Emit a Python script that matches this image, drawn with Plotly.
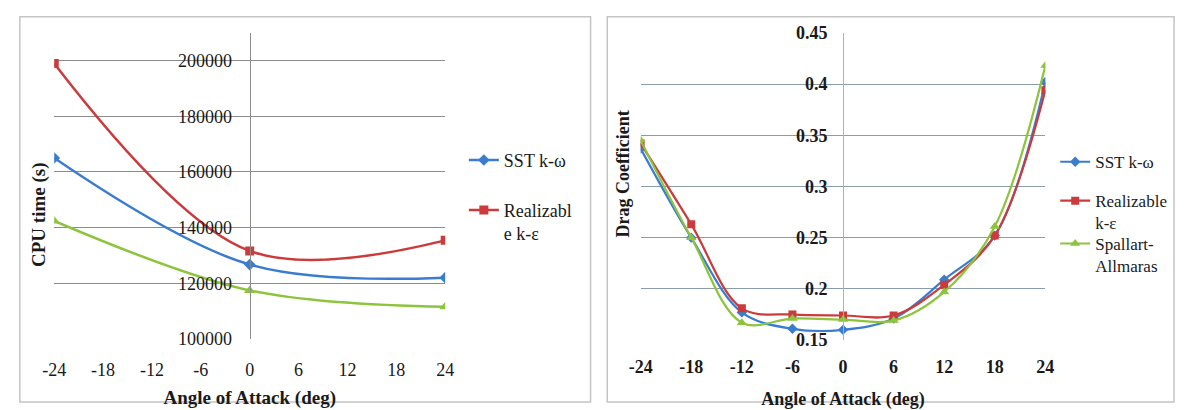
import plotly.graph_objects as go

W, H = 1186, 410

# ---------------- data ----------------
angles_left = [-24, 0, 24]
cpu_sst = [165000, 126700, 122000]
cpu_realizable = [199000, 131600, 135400]
cpu_spallart = [142400, 117400, 111500]

angles_right = [-24, -18, -12, -6, 0, 6, 12, 18, 24]
cd_sst = [0.337, 0.250, 0.177, 0.161, 0.160, 0.171, 0.209, 0.252, 0.402]
cd_realizable = [0.342, 0.263, 0.181, 0.175, 0.174, 0.174, 0.204, 0.252, 0.394]
cd_spallart = [0.345, 0.250, 0.167, 0.171, 0.170, 0.169, 0.197, 0.261, 0.418]

x_ticks = [-24, -18, -12, -6, 0, 6, 12, 18, 24]
x_tick_text = ["-24", "-18", "-12", "-6", "0", "6", "12", "18", "24"]
left_y_ticks = [100000, 120000, 140000, 160000, 180000, 200000]
left_y_text = ["100000", "120000", "140000", "160000", "180000", "200000"]
right_y_ticks = [0.15, 0.2, 0.25, 0.3, 0.35, 0.4, 0.45]
right_y_text = ["0.15", "0.2", "0.25", "0.3", "0.35", "0.4", "0.45"]

BLUE = "#3a7ccf"
RED = "#cc3b3b"
GREEN = "#8cc43c"
SERIF = "Liberation Serif, Times New Roman, serif"


def px(x):
    return x / W


def py(y):
    return 1 - y / H


fig = go.Figure()

# ---------------- left chart ----------------
fig.add_trace(go.Scatter(x=angles_left, y=cpu_sst, name="SST k-ω", mode="lines+markers",
                         line=dict(color=BLUE, width=2.5, shape="spline", smoothing=1),
                         marker=dict(symbol="diamond", size=9, color=BLUE),
                         xaxis="x", yaxis="y", legend="legend"))
fig.add_trace(go.Scatter(x=angles_left, y=cpu_realizable, name="Realizabl<br>e k-ε", mode="lines+markers",
                         line=dict(color=RED, width=2.5, shape="spline", smoothing=1),
                         marker=dict(symbol="square", size=9, color=RED),
                         xaxis="x", yaxis="y", legend="legend2"))
fig.add_trace(go.Scatter(x=angles_left, y=cpu_spallart, name="Spallart-Allmaras", mode="lines+markers",
                         line=dict(color=GREEN, width=2.5, shape="spline", smoothing=1),
                         marker=dict(symbol="triangle-up", size=10, color=GREEN),
                         xaxis="x", yaxis="y", showlegend=False))

# ---------------- right chart ----------------
fig.add_trace(go.Scatter(x=angles_right, y=cd_sst, name="SST k-ω", mode="lines+markers",
                         line=dict(color=BLUE, width=2.2, shape="spline", smoothing=1),
                         marker=dict(symbol="diamond", size=8, color=BLUE),
                         xaxis="x2", yaxis="y2", legend="legend3"))
fig.add_trace(go.Scatter(x=angles_right, y=cd_realizable, name="Realizable<br>k-ε", mode="lines+markers",
                         line=dict(color=RED, width=2.2, shape="spline", smoothing=1),
                         marker=dict(symbol="square", size=8, color=RED),
                         xaxis="x2", yaxis="y2", legend="legend4"))
fig.add_trace(go.Scatter(x=angles_right, y=cd_spallart, name="Spallart-<br>Allmaras", mode="lines+markers",
                         line=dict(color=GREEN, width=2.2, shape="spline", smoothing=1),
                         marker=dict(symbol="triangle-up", size=9, color=GREEN),
                         xaxis="x2", yaxis="y2", legend="legend5"))

tick_font_l = dict(family=SERIF, size=18, color="#1a1a1a")
tick_font_r = dict(family=SERIF, size=18, color="#1a1a1a", weight="bold")
title_font_l = dict(family=SERIF, size=19, color="#1a1a1a", weight="bold")
title_font_r = dict(family=SERIF, size=18, color="#1a1a1a", weight="bold")
leg_font_l = dict(family=SERIF, size=18, color="#1a1a1a")
leg_font_r = dict(family=SERIF, size=17, color="#1a1a1a")

xl_dom = [px(43), px(441)]
xr_dom = [px(640), px(1052)]

fig.update_layout(
    width=W, height=H,
    margin=dict(l=0, r=0, t=0, b=0),
    paper_bgcolor="white", plot_bgcolor="white",
    xaxis=dict(domain=xl_dom, range=[-24, 24], tickvals=x_ticks, ticktext=x_tick_text,
               showgrid=False, zeroline=False,
               showline=False, ticks="outside", ticklen=15, tickcolor="rgba(0,0,0,0)",
               tickfont=tick_font_l, anchor="y",
               title=dict(text="Angle of Attack (deg)", font=title_font_l, standoff=11)),
    yaxis=dict(domain=[py(345.7), py(24)], range=[100000, 210000], tickvals=left_y_ticks,
               ticktext=left_y_text,
               showgrid=True, gridcolor="#8c8c8c", gridwidth=1, zeroline=False,
               showline=True, linecolor="#8c8c8c", linewidth=1,
               anchor="free", position=(xl_dom[0] + xl_dom[1]) / 2,
               ticks="outside", ticklen=14, tickcolor="rgba(0,0,0,0)", tickfont=tick_font_l),
    xaxis2=dict(domain=xr_dom, range=[-24, 24], tickvals=x_ticks, ticktext=x_tick_text,
                showgrid=False, zeroline=False,
                showline=False, ticks="outside", ticklen=10, tickcolor="rgba(0,0,0,0)",
                tickfont=tick_font_r, anchor="y2",
                title=dict(text="Angle of Attack (deg)", font=title_font_r, standoff=16)),
    yaxis2=dict(domain=[py(347), py(24)], range=[0.15, 0.45], tickvals=right_y_ticks, ticktext=right_y_text,
                showgrid=True, gridcolor="#8a9bab", gridwidth=1, zeroline=False,
                showline=True, linecolor="#9cb6cc", linewidth=1,
                anchor="free", position=(xr_dom[0] + xr_dom[1]) / 2,
                ticks="outside", ticklen=12, tickcolor="rgba(0,0,0,0)", tickfont=tick_font_r),
    legend=dict(x=px(460), y=py(158), xanchor="left", yanchor="middle", font=leg_font_l,
                bgcolor="rgba(0,0,0,0)", valign="top"),
    legend2=dict(x=px(460), y=py(191), xanchor="left", yanchor="top", font=leg_font_l,
                 bgcolor="rgba(0,0,0,0)", valign="top"),
    legend3=dict(x=px(1062), y=py(160), xanchor="left", yanchor="middle", font=leg_font_r,
                 bgcolor="rgba(0,0,0,0)", valign="top"),
    legend4=dict(x=px(1062), y=py(182), xanchor="left", yanchor="top", font=leg_font_r,
                 bgcolor="rgba(0,0,0,0)", valign="top"),
    legend5=dict(x=px(1062), y=py(227), xanchor="left", yanchor="top", font=leg_font_r,
                 bgcolor="rgba(0,0,0,0)", valign="top"),
)

# y-axis titles
fig.add_annotation(text="CPU time (s)", x=px(28), y=py(216), xref="paper", yref="paper",
                   textangle=-90, showarrow=False, font=title_font_l, xanchor="center", yanchor="middle")
fig.add_annotation(text="Drag Coefficient", x=px(622), y=py(172), xref="paper", yref="paper",
                   textangle=-90, showarrow=False, font=title_font_r, xanchor="center", yanchor="middle")

# panel borders
for x0, x1 in [(8, 589), (606, 1183)]:
    fig.add_shape(type="rect", xref="paper", yref="paper", x0=px(x0), x1=px(x1), y0=py(412), y1=py(7),
                  line=dict(color="#c4c4c4", width=1.5), fillcolor="rgba(0,0,0,0)", layer="below")

fig.write_html("out.html")
